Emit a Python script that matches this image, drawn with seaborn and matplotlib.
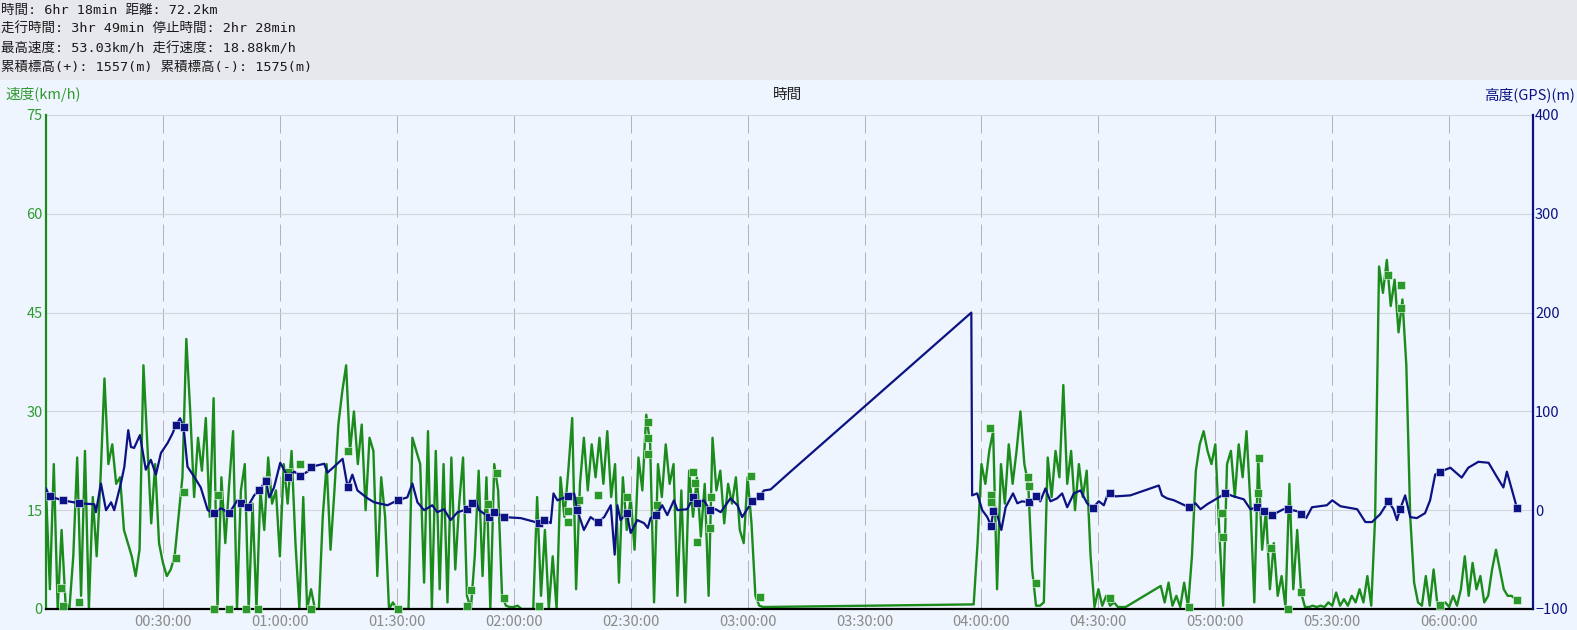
import numpy as np
import pandas as pd
import matplotlib
matplotlib.use("Agg")
import matplotlib.pyplot as plt
import seaborn as sns
from matplotlib.patches import Rectangle

# ---- data (minutes from start, km/h and m) ----
# speed, sampled once per minute inside each recorded stretch
seg_a_start = 0
seg_a_kmh = [
    18, 3, 22, 0, 12, 1, 0, 8, 23, 2, 24, 0, 17, 8, 20, 35, 22, 25, 19, 20,
    12, 10, 8, 5, 9, 37, 25, 13, 22, 10, 7, 5, 6, 8, 14, 20, 41, 30, 17, 26,
    21, 29, 14, 32, 0, 20, 10, 19, 27, 0, 18, 22, 0, 16, 0, 18, 12, 23, 16, 18,
    8, 22, 16, 24, 10, 0, 17, 0, 3, 0, 0, 14, 22, 9, 18, 28, 33, 37, 24, 30,
    22, 28, 15, 26, 24, 5, 20, 14, 0, 1, 0, 0, 0, 0, 26, 24, 22, 4, 27, 0,
    24, 3, 22, 1, 23, 6, 16, 23, 2, 0, 8, 21, 5, 20, 0, 22, 18, 2, 0.5, 0.3,
    0.3, 0.5, 0, 0, 0, 0, 17, 2, 12, 0, 8, 0, 20, 14, 21, 29, 3, 19, 26, 18,
    25, 20, 26, 19, 27, 17, 22, 4, 20, 12, 17, 9, 23, 18, 29.5, 25, 1, 22, 17, 25,
    19, 22, 2, 18, 1, 21, 14, 20, 11, 19, 2, 26, 18, 21, 13, 19, 16, 20, 12, 10,
    20, 13, 2, 0.5, 0.3,
]
gap_time = [236.5]
gap_kmh = [0.7]
seg_b_start = 238
seg_b_kmh = [
    0.7, 10, 22, 19, 24, 27, 3, 22, 16, 25, 19, 24, 30, 22, 19, 6, 0.5, 0.5, 1, 23,
    17, 24, 20, 34, 19, 24, 15, 22, 17, 21, 8, 0.3, 3, 0.5, 2, 0.5, 1, 0.3, 0.3, 0.3,
]
seg_c_start = 286
seg_c_kmh = [
    3.5, 1, 4, 0.5, 2, 0.3, 4, 0.3, 8, 21, 25, 27, 24, 22, 25, 12, 0.5, 22, 24, 17,
    25, 20, 27, 16, 1, 23, 9, 15, 3, 10, 2, 5, 0.3, 19, 3, 12, 2.5, 0.3, 0.3, 0.5,
    0.3, 0.5, 0.3, 1, 0.5, 2.5, 0.5, 1.5, 0.5, 2, 1, 3, 1, 5, 0.5, 14, 52, 48, 53, 46,
    50, 42, 47, 37, 14, 4, 1, 0.5, 5, 0.5, 6, 0.5, 0.6, 1, 0.3, 2, 0.5, 3, 8, 2,
    7, 3, 5, 1, 2, 6, 9, 6, 3, 2, 2, 1.5,
]

alt_time = [
    0, 0.9, 4.3, 8.5, 12.4, 12.8, 14.1, 15.4, 16.7, 17.5, 19.2, 20.1, 21.1, 21.8, 22.6,
    24.1, 25.6, 26.9, 28.2, 29.5, 31.2, 32.5, 33.3, 34.4, 35.3, 36.3, 38.0, 39.7, 41.5,
    43.2, 44.9, 47, 49.1, 50, 51.7, 53.4, 54.7, 56.4, 57.3, 58.5, 60.1, 62, 63.7, 65.2,
    67.1, 68.1, 71.4, 72.2, 73.9, 76.1, 77.4, 78.6, 79.9, 82.5, 84.2, 87.6, 90.2, 92.7,
    94, 95.3, 97, 99.1, 100.4, 102.1, 103.8, 105.6, 108.1, 109.4, 110.3, 111.1, 113.7,
    115, 117.5, 121.8, 126.5, 127.8, 129.5, 130.2, 131.2, 133.8, 135.5, 136.3, 138,
    139.7, 141.5, 143.2, 144.9, 145.9, 146.6, 147.4, 149, 150, 151.7, 153.4, 154.4,
    155.1, 156.6, 158.1, 159.4, 161.1, 162, 164.5, 166.1, 167.1, 168.8, 170.3, 171.8,
    173.1, 175.6, 177.4, 178.6, 179.9, 181.2, 183.1, 184.2, 185.9, 191, 237.4, 237.6,
    238.9, 240.2, 241.5, 242.5, 243, 244, 245.1, 246.2, 248.1, 249.2, 250.4, 252.1,
    254.1, 255.1, 256.4, 257.7, 259.4, 260.7, 262, 263.7, 265.4, 267.1, 268.5, 270.1,
    271.4, 272.2, 273.1, 274.4, 278.2, 285.5, 286.3, 287.6, 289.4, 293.2, 294.9, 296.2,
    297.9, 300.9, 302.6, 304.7, 307.3, 309, 310.7, 312.4, 314.5, 317.5, 318.6, 321, 322,
    323.3, 324.8, 328.6, 330, 332.1, 336.4, 338.5, 340.2, 342.3, 344.4, 345.7, 346.6,
    347.4, 348.7, 350, 351.7, 353.8, 355.1, 356.4, 357.7, 360.3, 363.2, 364.9, 367.5,
    370.1, 372.2, 373.9, 374.8, 377.4,
]
alt_m = [
    22, 14, 10, 7, 6, -2, 27, 0, 8, 0, 27, 44, 81, 64, 63,
    76, 41, 51, 36, 58, 68, 78, 86, 93, 84, 44, 34, 23, 0,
    -3, 2, -3, 10, 7, 3, 15, 20, 30, 13, 23, 48, 34, 39, 35,
    39, 44, 47, 38, 44, 52, 23, 36, 20, 12, 8, 5, 10, 13,
    27, 8, 0, 5, -2, 1, -10, -2, 1, 7, 10, 0, -7,
    -2, -7, -8, -13, -10, -13, 17, 10, 14, 17, 0, -20,
    -7, -12, -7, 5, -45, 5, -10, -3, -23, -10, -13, -18,
    -8, -5, 5, -5, 10, 0, 1, 13, 7, 10, 0, 1,
    -2, 12, 5, -7, 1, 9, 14, 20, 21, 39, 200, 15,
    17, 0, -7, -16, -1, -4, -20, 3, 17, 7, 9, 8,
    14, 9, 22, 9, 12, 17, 3, 17, 20, 7, 2, 9,
    5, 14, 17, 14, 15, 25, 15, 12, 10, 3, 7, 1,
    6, 13, 17, 14, 11, 1, 3, -1, -5, 1, 1, -1, -4,
    -8, 3, 5, 10, 4, 1, -12, -12, -4, 9, 1, -10,
    1, 15, -7, -8, -3, 10, 36, 39, 43, 33, 43, 49,
    48, 34, 23, 39, 2,
]

alt_mark_time = [
    0.9, 4.3, 8.5, 33.3, 35.3, 43.2, 47, 50, 51.7, 54.7, 56.4, 62, 65.2, 68.1, 77.4, 90.2,
    108.1, 109.4, 113.7, 115, 117.5, 126.5, 127.8, 133.8, 136.3, 141.5, 149, 156.6, 166.1,
    167.1, 170.3, 181.2, 183.1, 242.5, 243, 252.1, 254.1, 268.5, 273.1, 293.2, 302.6,
    310.7, 312.4, 314.5, 318.6, 322, 344.4, 347.4, 357.7, 377.4,
]
alt_mark_m = [
    14, 10, 7, 86, 84, -3, -3, 7, 3, 20, 30, 34, 35, 44, 23, 10,
    1, 7, -7, -2, -7, -13, -10, 14, 0, -12, -3, -5, 13,
    7, 0, 9, 14, -16, -1, 8, 14, 2, 17, 3, 17,
    3, -1, -5, 1, -4, 9, 1, 39, 2,
]

spd_mark_time = [
    3.8, 4.3, 8.5, 33.3, 35.3, 44, 43.2, 47, 51.3, 54.4, 56.4, 62.2, 65.2, 68.1, 77.4, 90.2,
    108, 109, 113.5, 115.6, 117.5, 126.5, 133.8, 133.8, 136.7, 141.5, 149.1, 154.5, 154.5,
    154.5, 156.7, 166, 166.6, 167.1, 170.3, 170.6, 180.8, 183.3, 242.3, 242.5, 242.5, 252,
    252.2, 254.1, 273.1, 293.2, 301.7, 301.9, 311.1, 310.9, 314.4, 318.6, 322, 344.4,
    347.6, 347.6, 357.7, 377.4,
]
spd_mark_kmh = [
    3.2, 0.5, 1, 7.7, 17.8, 17.3, 0, 0, 0, 0, 19.6, 20.8, 22, 0, 24, 0,
    0.5, 2.9, 16, 20.6, 1.7, 0.5, 13.2, 14.9, 16.5, 17.3, 17, 28.4, 26,
    23.5, 15.8, 20.8, 19.2, 10.2, 12.3, 17, 20.2, 1.8, 27.5, 17.3, 16.2, 20,
    18.6, 4, 1.7, 0.3, 14.5, 11, 23, 17.6, 9.3, 0, 2.6, 50.7,
    49.2, 45.7, 0.6, 1.4,
]

header_lines = [
    "時間: 6hr 18min 距離: 72.2km",
    "走行時間: 3hr 49min 停止時間: 2hr 28min",
    "最高速度: 53.03km/h 走行速度: 18.88km/h",
    "累積標高(+): 1557(m) 累積標高(-): 1575(m)",
]
x_ticks = list(range(30, 361, 30))
speed_ticks = [0, 15, 30, 45, 60, 75]
alt_ticks = [-100, 0, 100, 200, 300, 400]

# ---- build tables ----
speed_time = np.concatenate([
    seg_a_start + np.arange(len(seg_a_kmh)),
    gap_time,
    seg_b_start + np.arange(len(seg_b_kmh)),
    seg_c_start + np.arange(len(seg_c_kmh)),
])
speed_df = pd.DataFrame({"t": speed_time,
                         "kmh": seg_a_kmh + gap_kmh + seg_b_kmh + seg_c_kmh})
alt_df = pd.DataFrame({"t": alt_time, "m": alt_m})
alt_mark_df = pd.DataFrame({"t": alt_mark_time, "m": alt_mark_m})
spd_mark_df = pd.DataFrame({"t": spd_mark_time, "kmh": spd_mark_kmh})

GREEN = "#1b8c1b"
GREEN_TXT = "#2f9a2f"
NAVY = "#0c1282"
PLOT_BG = "#eef5fe"
HEADER_BG = "#e7e7ee"

plt.rcParams["font.family"] = ["Noto Sans CJK JP", "DejaVu Sans"]

W, H = 1577, 630
fig = plt.figure(figsize=(W / 100, H / 100), dpi=100, facecolor=PLOT_BG)
fig.patches.append(Rectangle((0, 1 - 80 / H), 1, 80 / H, transform=fig.transFigure,
                             facecolor=HEADER_BG, edgecolor="none", zorder=0))

ax = fig.add_axes([46 / W, 21 / H, (1533 - 46) / W, 494 / H])
ax.set_facecolor(PLOT_BG)
ax2 = ax.twinx()

# speed (left axis)
sns.lineplot(data=speed_df, x="t", y="kmh", ax=ax, color=GREEN, linewidth=1.7,
             estimator=None, sort=False)
sns.scatterplot(data=spd_mark_df, x="t", y="kmh", ax=ax, color="#2a982a", marker="s",
                s=28, edgecolor="#f4fff4", linewidth=0.4, zorder=5, clip_on=False)

# altitude (right axis)
sns.lineplot(data=alt_df, x="t", y="m", ax=ax2, color=NAVY, linewidth=1.6,
             estimator=None, sort=False)
sns.scatterplot(data=alt_mark_df, x="t", y="m", ax=ax2, color=NAVY, marker="s",
                s=28, edgecolor="#eef0ff", linewidth=0.4, zorder=5)

ax.set_xlim(0, 381.5)
ax.set_ylim(0, 75)
ax2.set_ylim(-100, 400)

ax.set_xticks(x_ticks)
ax.set_xticklabels([f"{m // 60:02d}:{m % 60:02d}:00" for m in x_ticks])
ax.set_yticks(speed_ticks)
ax2.set_yticks(alt_ticks)

ax.set_axisbelow(True)
ax.grid(axis="y", color="#d2d4dc", linewidth=0.8)
ax.grid(axis="x", color="#b4b4b8", linewidth=0.72, linestyle=(0, (21, 7)))
ax2.grid(False)

ax.set_xlabel("")
ax.set_ylabel("")
ax2.set_ylabel("")

ax.tick_params(axis="x", length=0, pad=4, labelsize=10.5, labelcolor="#8a8a8a")
ax.tick_params(axis="y", length=0, pad=2.5, labelsize=10.5, labelcolor=GREEN_TXT)
ax2.tick_params(axis="y", length=0, pad=1.5, labelsize=10.5, labelcolor=NAVY)

for s in ["top", "right"]:
    ax.spines[s].set_visible(False)
ax.spines["left"].set_color(GREEN)
ax.spines["left"].set_linewidth(1.6)
ax.spines["bottom"].set_color("black")
ax.spines["bottom"].set_linewidth(1.6)
for s in ["top", "left", "bottom"]:
    ax2.spines[s].set_visible(False)
ax2.spines["right"].set_color(NAVY)
ax2.spines["right"].set_linewidth(1.6)

# axis titles
fig.text(5 / W, 1 - 95 / H, "速度(km/h)", color=GREEN_TXT, fontsize=10.5, va="center", ha="left")
fig.text(788 / W, 1 - 95 / H, "時間", color="#202020", fontsize=10.5, va="center", ha="center")
fig.text(1575 / W, 1 - 95 / H, "高度(GPS)(m)", color=NAVY, fontsize=10.5, va="center", ha="right")

# header summary (half-width latin, full-width kanji)
for i, line in enumerate(header_lines):
    fig.text(1 / W, 1 - (10 + 19.3 * i) / H, line, color="#1a1a1a", fontsize=9.7,
             family=["DejaVu Sans Mono", "Noto Sans CJK JP"], va="center", ha="left")

fig.savefig("out.png", dpi=100, facecolor=PLOT_BG)
